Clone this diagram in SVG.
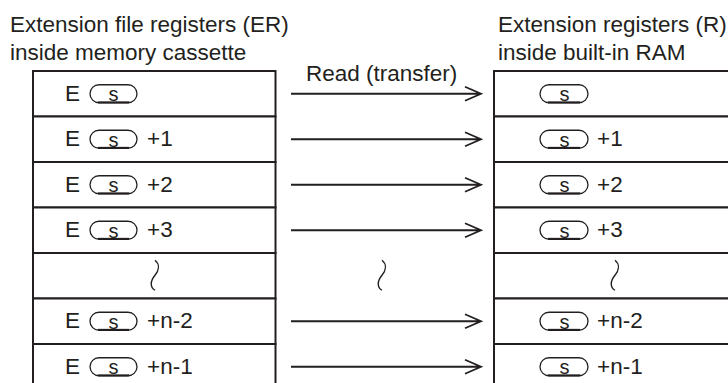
<svg xmlns="http://www.w3.org/2000/svg" width="728" height="383" viewBox="0 0 728 383">
<defs>
<style>
text{font-family:"Liberation Sans",Arial,sans-serif;fill:#231f20}
.t{font-size:22.5px}
.s{font-size:20px;text-anchor:middle}
.cell{fill:#fff;stroke:#231f20;stroke-width:2}
.pill{fill:none;stroke:#231f20;stroke-width:1.3}
.pb{stroke:#231f20;stroke-width:2}
.arr{fill:none;stroke:#231f20;stroke-width:1.8}
.wave{fill:none;stroke:#231f20;stroke-width:1.4}
</style>
<g id="pillL"><rect class="pill" x="90" y="-9" width="47" height="18" rx="9"/><line class="pb" x1="98" y1="8.6" x2="129" y2="8.6"/><text class="s" x="113.5" y="7.5">s</text></g>
<g id="pillR"><rect class="pill" x="540" y="-9" width="48" height="18" rx="9"/><line class="pb" x1="548" y1="8.6" x2="580" y2="8.6"/><text class="s" x="564.5" y="7.5">s</text></g>
<path id="arrow" class="arr" d="M291 0H480M465 -7L481 0L465 7"/>
<path id="wv" class="wave" d="M0 -15.5C5 -11.5 4 -5.5 0 -0.5C-5 5.5 -5 11.5 0 14.5"/>
</defs>
<g id="titles">
<text class="t" x="10" y="32">Extension file registers (ER)</text>
<text class="t" x="10" y="59.5">inside memory cassette</text>
<text class="t" x="498" y="32">Extension registers (R)</text>
<text class="t" x="498" y="59.5">inside built-in RAM</text>
</g>
<g id="left-registers">
<g id="L1"><rect class="cell" x="33" y="71" width="242.5" height="45.5"/><g transform="translate(0,93.75)"><text class="t" x="65" y="7">E</text><use href="#pillL"/></g></g>
<g id="L2"><rect class="cell" x="33" y="116.5" width="242.5" height="45.5"/><g transform="translate(0,139.25)"><text class="t" x="65" y="7">E</text><use href="#pillL"/><text class="t" x="147" y="7">+1</text></g></g>
<g id="L3"><rect class="cell" x="33" y="162" width="242.5" height="45.5"/><g transform="translate(0,184.75)"><text class="t" x="65" y="7">E</text><use href="#pillL"/><text class="t" x="147" y="7">+2</text></g></g>
<g id="L4"><rect class="cell" x="33" y="207.5" width="242.5" height="45.5"/><g transform="translate(0,230.25)"><text class="t" x="65" y="7">E</text><use href="#pillL"/><text class="t" x="147" y="7">+3</text></g></g>
<g id="L5"><rect class="cell" x="33" y="253" width="242.5" height="45.5"/><use href="#wv" transform="translate(155,275.75)"/></g>
<g id="L6"><rect class="cell" x="33" y="298.5" width="242.5" height="45.5"/><g transform="translate(0,321.25)"><text class="t" x="65" y="7">E</text><use href="#pillL"/><text class="t" x="147" y="7">+n-2</text></g></g>
<g id="L7"><rect class="cell" x="33" y="344" width="242.5" height="45.5"/><g transform="translate(0,366.75)"><text class="t" x="65" y="7">E</text><use href="#pillL"/><text class="t" x="147" y="7">+n-1</text></g></g>
</g>
<g id="right-registers">
<g id="R1"><rect class="cell" x="494" y="71" width="250" height="45.5"/><g transform="translate(0,93.75)"><use href="#pillR"/></g></g>
<g id="R2"><rect class="cell" x="494" y="116.5" width="250" height="45.5"/><g transform="translate(0,139.25)"><use href="#pillR"/><text class="t" x="597" y="7">+1</text></g></g>
<g id="R3"><rect class="cell" x="494" y="162" width="250" height="45.5"/><g transform="translate(0,184.75)"><use href="#pillR"/><text class="t" x="597" y="7">+2</text></g></g>
<g id="R4"><rect class="cell" x="494" y="207.5" width="250" height="45.5"/><g transform="translate(0,230.25)"><use href="#pillR"/><text class="t" x="597" y="7">+3</text></g></g>
<g id="R5"><rect class="cell" x="494" y="253" width="250" height="45.5"/><use href="#wv" transform="translate(615,275.75)"/></g>
<g id="R6"><rect class="cell" x="494" y="298.5" width="250" height="45.5"/><g transform="translate(0,321.25)"><use href="#pillR"/><text class="t" x="597" y="7">+n-2</text></g></g>
<g id="R7"><rect class="cell" x="494" y="344" width="250" height="45.5"/><g transform="translate(0,366.75)"><use href="#pillR"/><text class="t" x="597" y="7">+n-1</text></g></g>
</g>
<g id="connectors">
<text class="t" x="306" y="80.5">Read (transfer)</text>
<use href="#arrow" transform="translate(0,93.75)"/>
<use href="#arrow" transform="translate(0,139.25)"/>
<use href="#arrow" transform="translate(0,184.75)"/>
<use href="#arrow" transform="translate(0,230.25)"/>
<use href="#wv" transform="translate(382,275.75)"/>
<use href="#arrow" transform="translate(0,321.25)"/>
<use href="#arrow" transform="translate(0,366.75)"/>
</g>
</svg>
